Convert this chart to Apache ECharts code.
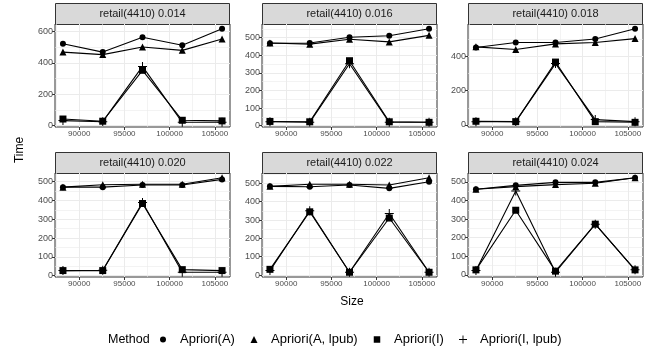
<!DOCTYPE html>
<html>
<head>
<meta charset="utf-8">
<script src="https://cdn.jsdelivr.net/npm/echarts@6/dist/echarts.min.js"></script>
<style>
  html, body { margin: 0; padding: 0; background: #fff; }
  #chart { width: 656px; height: 358px; }
</style>
</head>
<body>
<div id="chart"></div>
<script>
// data
const sizes = [88200, 92600, 97000, 101400, 105800];
const panels = ['retail(4410) 0.014', 'retail(4410) 0.016', 'retail(4410) 0.018',
                'retail(4410) 0.020', 'retail(4410) 0.022', 'retail(4410) 0.024'];
const methods = ['Apriori(A)', 'Apriori(A, lpub)', 'Apriori(I)', 'Apriori(I, lpub)'];

const timeA = [
  [521, 468, 562, 511, 617],
  [468, 470, 502, 511, 551],
  [452, 481, 481, 502, 562],
  [471, 471, 482, 482, 512],
  [484, 482, 491, 473, 509],
  [461, 482, 498, 498, 523]
];
const timeALpub = [
  [468, 452, 500, 479, 551],
  [470, 463, 491, 476, 513],
  [456, 440, 473, 481, 504],
  [471, 484, 486, 486, 521],
  [484, 495, 495, 491, 531],
  [461, 475, 486, 493, 523]
];
const timeI = [
  [42, 28, 352, 34, 30],
  [24, 22, 369, 22, 19],
  [21, 19, 367, 19, 15],
  [27, 27, 384, 32, 27],
  [31, 345, 15, 311, 15],
  [27, 348, 20, 273, 27]
];
const timeILpub = [
  [32, 25, 377, 21, 21],
  [22, 19, 352, 19, 19],
  [19, 19, 358, 31, 19],
  [27, 29, 389, 18, 18],
  [24, 351, 15, 336, 15],
  [23, 452, 14, 273, 27]
];

const xTicks = [90000, 95000, 100000, 105000];
const xMinor = [87500, 92500, 97500, 102500];
const yTicks = [
  [0, 200, 400, 600],
  [0, 100, 200, 300, 400, 500],
  [0, 200, 400],
  [0, 100, 200, 300, 400, 500],
  [0, 100, 200, 300, 400, 500],
  [0, 100, 200, 300, 400, 500]
];

const seriesByMethod = [timeA, timeALpub, timeI, timeILpub];
const plusPath = 'path://M4,0L5,0L5,4L9,4L9,5L5,5L5,9L4,9L4,5L0,5L0,4L4,4Z';
const symbols = ['circle', 'triangle', 'rect', plusPath];
const symbolSizes = [6, 7, 7, 9];
const legendIcons = ['circle', 'triangle', 'rect', plusPath];

const FONT = '"Liberation Sans", Arial, sans-serif';
const colLeft = [55, 262, 468];
const colW = 175;
const rowTop = [24, 173];
const rowH = [103, 104];
const stripH = 21;

// ggplot style 5% expansion
function expand(lo, hi) {
  const d = (hi - lo) * 0.05;
  return [lo - d, hi + d];
}
const xRange = expand(Math.min(...sizes), Math.max(...sizes));

const option = {
  animation: false,
  backgroundColor: '#fff',
  textStyle: { fontFamily: FONT },
  grid: [], xAxis: [], yAxis: [], series: [], graphic: [], legend: []
};

panels.forEach((title, p) => {
  const col = p % 3, row = Math.floor(p / 3);
  const left = colLeft[col], top = rowTop[row], h = rowH[row];
  option.grid.push({
    left: left, top: top, width: colW, height: h,
    show: true, borderColor: '#333', borderWidth: 1, backgroundColor: '#fff'
  });

  const all = [];
  seriesByMethod.forEach(s => all.push(...s[p]));
  const yRange = expand(Math.min(...all), Math.max(...all));
  const step = yTicks[p][1] - yTicks[p][0];
  const yMinor = [];
  for (let v = yTicks[p][0] - step / 2; v <= yRange[1]; v += step) {
    if (v >= yRange[0]) yMinor.push(v);
  }

  // major axes
  option.xAxis.push({
    type: 'value', gridIndex: p, min: xRange[0], max: xRange[1],
    axisLine: { show: false, onZero: false },
    axisTick: { show: true, customValues: xTicks, length: 3, lineStyle: { color: '#333' } },
    axisLabel: { customValues: xTicks, fontSize: 8, color: '#4d4d4d', margin: 3,
                 fontFamily: FONT, formatter: v => String(v) },
    splitLine: { show: true, lineStyle: { color: '#ebebeb', width: 1 } }
  });
  option.yAxis.push({
    type: 'value', gridIndex: p, min: yRange[0], max: yRange[1],
    axisLine: { show: false, onZero: false },
    axisTick: { show: true, customValues: yTicks[p], length: 3, lineStyle: { color: '#333' } },
    axisLabel: { customValues: yTicks[p], fontSize: 9, color: '#4d4d4d', margin: 2,
                 fontFamily: FONT, formatter: v => String(v) },
    splitLine: { show: true, lineStyle: { color: '#ebebeb', width: 1 } }
  });

  // strip
  option.graphic.push({
    type: 'rect', silent: true,
    shape: { x: left + 0.5, y: top - stripH + 0.5, width: colW - 1, height: stripH },
    style: { fill: '#d9d9d9', stroke: '#333', lineWidth: 1 }
  });
  option.graphic.push({
    type: 'text', silent: true,
    x: left + colW / 2, y: top - stripH / 2 + 0.5,
    style: { text: title, fontSize: 11, fill: '#1a1a1a', align: 'center',
             verticalAlign: 'middle', fontFamily: FONT }
  });

  // minor grid axes
  option.xAxis.push({
    type: 'value', gridIndex: p, min: xRange[0], max: xRange[1], position: 'top',
    axisLine: { show: false, onZero: false },
    axisTick: { show: false, customValues: xMinor },
    axisLabel: { show: false },
    splitLine: { show: true, lineStyle: { color: '#ebebeb', width: 0.6 } }
  });
  option.yAxis.push({
    type: 'value', gridIndex: p, min: yRange[0], max: yRange[1], position: 'right',
    axisLine: { show: false, onZero: false },
    axisTick: { show: false, customValues: yMinor },
    axisLabel: { show: false },
    splitLine: { show: true, lineStyle: { color: '#ebebeb', width: 0.6 } }
  });
});

// lines first, points on top
panels.forEach((title, p) => {
  const xi = option.xAxis.findIndex(a => a.gridIndex === p);
  const yi = option.yAxis.findIndex(a => a.gridIndex === p);
  seriesByMethod.forEach((s, m) => {
    option.series.push({
      type: 'line', xAxisIndex: xi, yAxisIndex: yi, silent: true,
      showSymbol: false, z: 3,
      lineStyle: { color: '#000', width: 1.1 },
      data: sizes.map((x, j) => [x, s[p][j]])
    });
  });
});
panels.forEach((title, p) => {
  const xi = option.xAxis.findIndex(a => a.gridIndex === p);
  const yi = option.yAxis.findIndex(a => a.gridIndex === p);
  seriesByMethod.forEach((s, m) => {
    option.series.push({
      type: 'scatter', name: methods[m], xAxisIndex: xi, yAxisIndex: yi, z: 4,
      symbol: symbols[m], symbolSize: symbolSizes[m],
      itemStyle: { color: '#000', opacity: 1 },
      data: sizes.map((x, j) => [x, s[p][j]])
    });
  });
});

// one legend per item so each sits where the reference has it
const legendCenters = [163, 254, 377, 463];
const legendIconSize = [6, 7, 6.5, 8];
methods.forEach((m, i) => {
  const w = legendIconSize[i];
  option.legend.push({
    left: legendCenters[i] - w / 2, top: 333, padding: 0,
    itemWidth: w, itemHeight: w,
    selectedMode: false,
    textStyle: { fontSize: 13, color: '#000', fontFamily: FONT,
                 padding: [0, 0, 0, 17 - w / 2 - 5] },
    data: [{ name: m, icon: legendIcons[i], itemStyle: { color: '#000' } }]
  });
});

option.graphic.push(
  { type: 'text', silent: true, x: 108, y: 340,
    style: { text: 'Method', fontSize: 12.5, fill: '#000', verticalAlign: 'middle', fontFamily: FONT } },
  { type: 'text', silent: true, x: 352, y: 302,
    style: { text: 'Size', fontSize: 12, fill: '#000', align: 'center', verticalAlign: 'middle', fontFamily: FONT } },
  { type: 'text', silent: true, x: 20, y: 150, rotation: Math.PI / 2,
    style: { text: 'Time', fontSize: 12, fill: '#000', align: 'center', verticalAlign: 'middle', fontFamily: FONT } }
);

const chart = echarts.init(document.getElementById('chart'), null, { renderer: 'canvas' });
chart.setOption(option);
</script>
</body>
</html>
